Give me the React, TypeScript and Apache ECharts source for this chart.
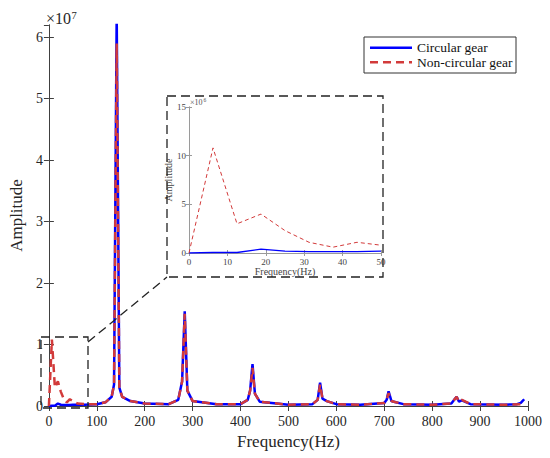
import React, { useEffect, useRef } from "react";
import * as echarts from "echarts";

// Frequency (Hz) and amplitude (x10^7)
const circularFreq = [0, 6.25, 12.5, 18.75, 25, 31.25, 37.5, 43.75, 50, 75, 100, 118, 131, 136, 141.5, 147, 153, 170, 200, 250, 270, 278, 283.5, 289, 300, 350, 400, 415, 420, 425, 430, 440, 500, 550, 561, 566, 571, 580, 600, 650, 700, 705, 709, 715, 720, 740, 800, 840, 846, 851, 856, 862, 880, 950, 977, 985, 992];
const circularAmp = [0, 0.005, 0.005, 0.04, 0.02, 0.015, 0.015, 0.015, 0.02, 0.02, 0.03, 0.06, 0.15, 0.35, 6.4, 0.3, 0.15, 0.08, 0.04, 0.03, 0.1, 0.4, 1.54, 0.25, 0.08, 0.03, 0.03, 0.1, 0.25, 0.68, 0.2, 0.07, 0.02, 0.03, 0.1, 0.38, 0.12, 0.08, 0.03, 0.02, 0.05, 0.1, 0.24, 0.08, 0.07, 0.03, 0.02, 0.04, 0.1, 0.15, 0.07, 0.09, 0.03, 0.02, 0.03, 0.05, 0.11];

const nonCircularFreq = [0, 6.25, 12.5, 18.75, 25, 31.25, 37.5, 43.75, 50, 60, 75, 100, 118, 131, 136, 141.5, 147, 153, 170, 200, 250, 270, 278, 283.5, 289, 300, 350, 400, 415, 420, 425, 430, 440, 500, 550, 561, 566, 571, 580, 600, 650, 700, 705, 709, 715, 720, 740, 800, 840, 846, 851, 856, 862, 880, 950, 985, 992];
const nonCircularAmp = [0, 1.08, 0.3, 0.4, 0.23, 0.11, 0.06, 0.11, 0.08, 0.04, 0.03, 0.03, 0.06, 0.15, 0.35, 5.9, 0.3, 0.15, 0.08, 0.04, 0.03, 0.1, 0.4, 1.5, 0.25, 0.08, 0.03, 0.03, 0.1, 0.25, 0.62, 0.2, 0.07, 0.02, 0.03, 0.1, 0.35, 0.12, 0.08, 0.03, 0.02, 0.05, 0.1, 0.21, 0.08, 0.07, 0.03, 0.02, 0.04, 0.1, 0.15, 0.07, 0.1, 0.03, 0.02, 0.03, 0.05];

const seriesNames = ["Circular gear", "Non-circular gear"];
const insetMaxFreq = 50;

const FONT = "Liberation Serif, Times New Roman, serif";
const BLUE = "#0000FF";
const RED = "#D23A3A";
const AXIS = "#404040";

function zip(f: number[], a: number[], scale = 1) {
  return f.map((x, i) => [x, a[i] * scale]);
}
function insetData(f: number[], a: number[]) {
  // inset unit is x10^6 (main is x10^7)
  return zip(f, a, 10).filter((p) => p[0] <= insetMaxFreq);
}

function txt(x: number, y: number, text: string, size: number, fill: string) {
  return {
    type: "text", x, y, z: 60,
    style: { text, fontSize: size, fontFamily: FONT, fill, align: "left", verticalAlign: "middle" },
  };
}

export default function App() {
  const ref = useRef<HTMLDivElement>(null);
  useEffect(() => {
    const chart = echarts.init(ref.current!, null, { renderer: "svg" });
    const mainAxisCommon = {
      axisLine: { show: true, lineStyle: { color: AXIS, width: 1 } },
      axisTick: { show: true, inside: true, length: 5, lineStyle: { color: AXIS } },
      splitLine: { show: false },
    };
    const insetAxisCommon = {
      axisLine: { show: true, lineStyle: { color: "#9a9a9a", width: 1 } },
      axisTick: { show: true, inside: true, length: 3, lineStyle: { color: "#9a9a9a" } },
      splitLine: { show: false },
    };
    const plain = (v: number) => String(v);
    const option: any = {
      animation: false,
      backgroundColor: "#fff",
      textStyle: { fontFamily: FONT },
      grid: [
        { left: 45, top: 25, right: 22, bottom: 52 },
        { left: 189, top: 107, width: 192, height: 146, show: true, backgroundColor: "#fff", borderWidth: 0 },
      ],
      xAxis: [
        {
          gridIndex: 0, type: "value", min: 0, max: 1000, interval: 100,
          ...mainAxisCommon,
          axisLabel: { fontSize: 14, color: "#262626", margin: 8, fontFamily: FONT, formatter: plain },
          name: "Frequency(Hz)", nameLocation: "middle", nameGap: 23,
          nameTextStyle: { fontSize: 17, color: "#262626", fontFamily: FONT, letterSpacing: 0.6 },
        },
        {
          gridIndex: 0, type: "value", min: 0, max: 1000, interval: 100, position: "top",
          ...mainAxisCommon, axisLabel: { show: false },
        },
        {
          gridIndex: 1, type: "value", min: 0, max: 50, interval: 10,
          ...insetAxisCommon,
          axisLabel: { fontSize: 9, color: "#444", margin: 4, fontFamily: FONT },
          name: "Frequency(Hz)", nameLocation: "middle", nameGap: 13,
          nameTextStyle: { fontSize: 10, color: "#444", fontFamily: FONT },
        },
        {
          gridIndex: 1, type: "value", min: 0, max: 50, interval: 10, position: "top",
          ...insetAxisCommon, axisLabel: { show: false },
        },
      ],
      yAxis: [
        {
          gridIndex: 0, type: "value", min: 0, max: 6.2, interval: 1,
          ...mainAxisCommon,
          axisLabel: { fontSize: 14, color: "#262626", margin: 6, showMaxLabel: false, fontFamily: FONT },
          name: "Amplitude", nameLocation: "middle", nameGap: 21,
          nameTextStyle: { fontSize: 17, color: "#262626", fontFamily: FONT },
        },
        {
          gridIndex: 0, type: "value", min: 0, max: 6.2, interval: 1, position: "right",
          ...mainAxisCommon, axisLabel: { show: false },
        },
        {
          gridIndex: 1, type: "value", min: 0, max: 15, interval: 5,
          ...insetAxisCommon,
          axisLabel: { fontSize: 9, color: "#444", margin: 3, fontFamily: FONT },
          name: "Amplitude", nameLocation: "middle", nameGap: 15,
          nameTextStyle: { fontSize: 10, color: "#444", fontFamily: FONT },
        },
        {
          gridIndex: 1, type: "value", min: 0, max: 15, interval: 5, position: "right",
          ...insetAxisCommon, axisLabel: { show: false },
        },
      ],
      series: [
        {
          name: seriesNames[0], type: "line", xAxisIndex: 0, yAxisIndex: 0,
          data: zip(circularFreq, circularAmp), symbol: "none", clip: true,
          lineStyle: { color: BLUE, width: 2.5 }, itemStyle: { color: BLUE },
        },
        {
          name: seriesNames[1], type: "line", xAxisIndex: 0, yAxisIndex: 0,
          data: zip(nonCircularFreq, nonCircularAmp), symbol: "none", clip: true,
          lineStyle: { color: RED, width: 2.5, type: [8, 5] }, itemStyle: { color: RED },
        },
        {
          name: "inset-circular", type: "line", xAxisIndex: 2, yAxisIndex: 2,
          data: insetData(circularFreq, circularAmp), symbol: "none",
          lineStyle: { color: BLUE, width: 1.3 },
        },
        {
          name: "inset-noncircular", type: "line", xAxisIndex: 2, yAxisIndex: 2,
          data: insetData(nonCircularFreq, nonCircularAmp), symbol: "none",
          lineStyle: { color: RED, width: 1, type: [4, 3] },
        },
      ],
      graphic: [
        txt(46, 18.5, "×10", 16, "#262626"),
        txt(71.5, 15.5, "7", 10.5, "#262626"),
        txt(190, 102.5, "×10", 8, "#555"),
        txt(203.5, 100, "6", 5.5, "#555"),
        {
          type: "rect", shape: { x: 41, y: 337, width: 47, height: 71 }, z: 50,
          style: { fill: "none", stroke: "#222", lineWidth: 1.3, lineDash: [9, 5] },
        },
        {
          type: "rect", shape: { x: 167, y: 96, width: 216, height: 181 }, z: 50,
          style: { fill: "none", stroke: "#222", lineWidth: 1.3, lineDash: [9, 5] },
        },
        {
          type: "line", shape: { x1: 88, y1: 342, x2: 167, y2: 277 }, z: 50,
          style: { stroke: "#222", lineWidth: 1.3, lineDash: [9, 5] },
        },
        // legend
        {
          type: "rect", shape: { x: 364, y: 37, width: 152, height: 36 }, z: 55,
          style: { fill: "#fff", stroke: "#333", lineWidth: 1 },
        },
        {
          type: "line", shape: { x1: 370, y1: 47.7, x2: 412, y2: 47.7 }, z: 60,
          style: { stroke: BLUE, lineWidth: 2.5 },
        },
        {
          type: "line", shape: { x1: 370, y1: 62.3, x2: 412, y2: 62.3 }, z: 60,
          style: { stroke: RED, lineWidth: 2.5, lineDash: [8, 5] },
        },
        txt(417, 47.7, seriesNames[0], 13.5, "#111"),
        txt(417, 62.3, seriesNames[1], 13.5, "#111"),
      ],
    };
    chart.setOption(option);
    return () => chart.dispose();
  }, []);
  return <div ref={ref} style={{ position: "fixed", left: 0, top: 0, width: 550, height: 458 }} />;
}
